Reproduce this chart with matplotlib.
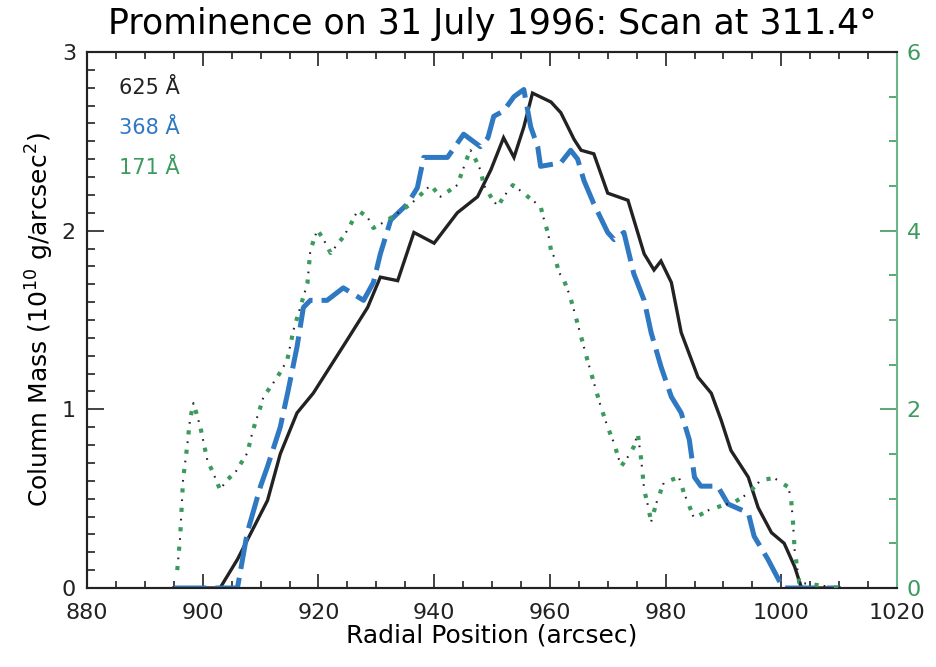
import matplotlib
matplotlib.use("Agg")
import matplotlib.pyplot as plt
from matplotlib.ticker import MultipleLocator

plt.rcParams['font.family'] = ['DejaVu Sans']

title = "Prominence on 31 July 1996: Scan at 311.4°"
xlabel = "Radial Position (arcsec)"
ylabel = r"Column Mass (10$^{10}$ g/arcsec$^{2}$)"

# 625 A (left axis)
x625 = [895, 903, 906, 911.2, 913.4, 916.3, 919.1, 925, 928.5, 930.7, 933.7, 936.5, 940, 944,
        947.5, 949.8, 952, 953.8, 955.5, 957, 960.2, 961.9, 964.2, 965.4, 967.6, 970, 973.5,
        976.3, 978, 979.2, 981, 982.7, 985.6, 987.9, 989.6, 991.3, 994.3, 996, 998.3, 1000.5,
        1002.3, 1003.5, 1010]
y625 = [0, 0, 0.16, 0.49, 0.75, 0.98, 1.09, 1.39, 1.57, 1.74, 1.72, 1.99, 1.93, 2.10,
        2.19, 2.34, 2.52, 2.41, 2.58, 2.77, 2.72, 2.66, 2.51, 2.45, 2.43, 2.21, 2.17,
        1.87, 1.78, 1.83, 1.71, 1.43, 1.18, 1.09, 0.94, 0.77, 0.62, 0.45, 0.31, 0.25,
        0.12, 0, 0]

# 368 A (left axis)
x368 = [895, 906, 907.7, 910, 911.2, 913.4, 914.8, 916.3, 917.4, 918.6, 921.5, 924.3, 927.8,
        929.5, 930.7, 932.5, 935.4, 937.1, 938.2, 942.3, 945.1, 948, 949.3, 950.3, 952,
        953.8, 955.5, 956.7, 957.9, 958.4, 961.9, 963.6, 964.8, 965.9, 967.6, 970, 971.1,
        972.8, 974.5, 976.3, 977.5, 979.2, 981, 982.7, 984.1, 985, 986.1, 989, 990.8,
        994.3, 995.3, 997.7, 1000.3, 1010]
y368 = [0, 0, 0.31, 0.57, 0.68, 0.90, 1.11, 1.35, 1.57, 1.61, 1.61, 1.68, 1.61,
        1.71, 1.87, 2.06, 2.15, 2.24, 2.41, 2.41, 2.54, 2.47, 2.52, 2.64, 2.67,
        2.75, 2.79, 2.58, 2.47, 2.36, 2.38, 2.45, 2.40, 2.28, 2.15, 1.99, 1.95,
        1.99, 1.76, 1.61, 1.43, 1.24, 1.07, 0.98, 0.83, 0.62, 0.57, 0.57, 0.47,
        0.42, 0.29, 0.16, 0, 0]

# 171 A (right axis)
x171 = [895.6, 896.1, 896.6, 897.3, 897.8, 898.4, 899.6, 900.8, 901.8, 903, 904.2, 905.6,
        907.7, 908.7, 910, 910.5, 912.9, 914.6, 915.7, 916.9, 917.4, 918.1, 918.6, 919.8,
        920.9, 922.1, 924.3, 925.5, 926.8, 928.5, 929.5, 932, 936, 939.4, 941.1, 944,
        945.8, 946.3, 947.2, 948, 948.6, 949.8, 951, 952, 953.6, 955.5, 956.2, 958.4,
        959, 959.7, 960.2, 961, 961.6, 962.4, 963.3, 964, 966.5, 968.8, 970, 971.1,
        972.3, 973.5, 974.5, 975.2, 975.8, 976.3, 977, 977.5, 978.4, 979.7, 982.3,
        983.2, 984.4, 984.9, 987.4, 990.1, 991.9, 994.3, 996.5, 998.8, 1001.2, 1001.7,
        1002, 1002.3, 1003.1, 1010]
y171 = [0.2, 0.57, 1.21, 1.58, 1.88, 2.07, 1.80, 1.43, 1.29, 1.10, 1.21, 1.29,
        1.51, 1.77, 2.03, 2.14, 2.36, 2.55, 2.89, 3.15, 3.26, 3.41, 3.78, 4.01,
        3.90, 3.75, 3.93, 4.06, 4.23, 4.15, 4.03, 4.12, 4.30, 4.51, 4.38, 4.51,
        4.83, 4.90, 4.79, 4.68, 4.51, 4.38, 4.27, 4.38, 4.51, 4.42, 4.38, 4.27,
        4.12, 3.97, 3.78, 3.67, 3.53, 3.45, 3.30, 3.15, 2.55, 2.03, 1.80, 1.62,
        1.36, 1.47, 1.58, 1.73, 1.43, 1.10, 0.91, 0.74, 0.95, 1.18, 1.24,
        1.06, 0.87, 0.78, 0.87, 0.93, 0.96, 1.06, 1.21, 1.23, 1.13, 0.99,
        0.76, 0.43, 0.06, 0]

labels = ["625 Å", "368 Å", "171 Å"]

c_black = "#222222"
c_blue = "#2f78c2"
c_green = "#3d9a5e"
c_gspine = "#6cb58a"

fig = plt.figure(figsize=(9.37, 6.67), dpi=100)
ax = fig.add_axes([87/937, 1-588/667, (897-87)/937, (588-52)/667])
ax2 = ax.twinx()

ax.plot(x625, y625, color=c_black, lw=2.4, solid_joinstyle='miter', zorder=3)
ax.plot(x368, y368, color=c_blue, lw=3.6, linestyle=(0, (6.5, 1.8)), zorder=4)
ax2.plot(x171, y171, color=c_black, lw=1.5, linestyle=(4.07, (0.8, 8.53)), zorder=2)
ax2.plot(x171, y171, color=c_green, lw=3.0, linestyle=(0, (1.0, 3.67)), zorder=3)

ax.set_xlim(880, 1020)
ax.set_ylim(0, 3)
ax2.set_ylim(0, 6)

ax.xaxis.set_major_locator(MultipleLocator(20))
ax.xaxis.set_minor_locator(MultipleLocator(5))
ax.yaxis.set_major_locator(MultipleLocator(1))
ax.yaxis.set_minor_locator(MultipleLocator(0.1))
ax2.yaxis.set_major_locator(MultipleLocator(2))
ax2.yaxis.set_minor_locator(MultipleLocator(0.5))

ax.tick_params(axis='x', which='both', direction='in', top=True, bottom=True,
               labelsize=16, pad=11, colors=c_black)
ax.tick_params(axis='x', which='major', length=10, width=1.2)
ax.tick_params(axis='x', which='minor', length=5, width=1.2)
ax.tick_params(axis='y', which='both', direction='in', left=True, right=False,
               labelsize=16, pad=8, colors=c_black)
ax.tick_params(axis='y', which='major', length=12, width=1.2)
ax.tick_params(axis='y', which='minor', length=6, width=1.2)
ax2.tick_params(axis='y', which='both', direction='in', right=True, labelsize=16,
                pad=7, colors=c_green)
ax2.tick_params(axis='y', which='major', length=12, width=1.2)
ax2.tick_params(axis='y', which='minor', length=6, width=1.2)

for s in ['left', 'top', 'bottom']:
    ax.spines[s].set_color(c_black)
    ax.spines[s].set_linewidth(1.5)
    ax2.spines[s].set_color(c_black)
    ax2.spines[s].set_linewidth(1.5)
ax2.spines['right'].set_color(c_gspine)
ax2.spines['right'].set_linewidth(1.5)
ax.spines['right'].set_visible(False)

ax.set_title(title, fontsize=25, pad=13)
ax.set_xlabel(xlabel, fontsize=18, labelpad=0)
ax.set_ylabel(ylabel, fontsize=18, labelpad=4)

for lbl, col, yf in zip(labels, [c_black, c_blue, c_green], [0.933, 0.858, 0.784]):
    ax.text(0.04, yf, lbl, transform=ax.transAxes, color=col, fontsize=15,
            va='center', ha='left')

fig.savefig("out.png", dpi=100, facecolor='white')
